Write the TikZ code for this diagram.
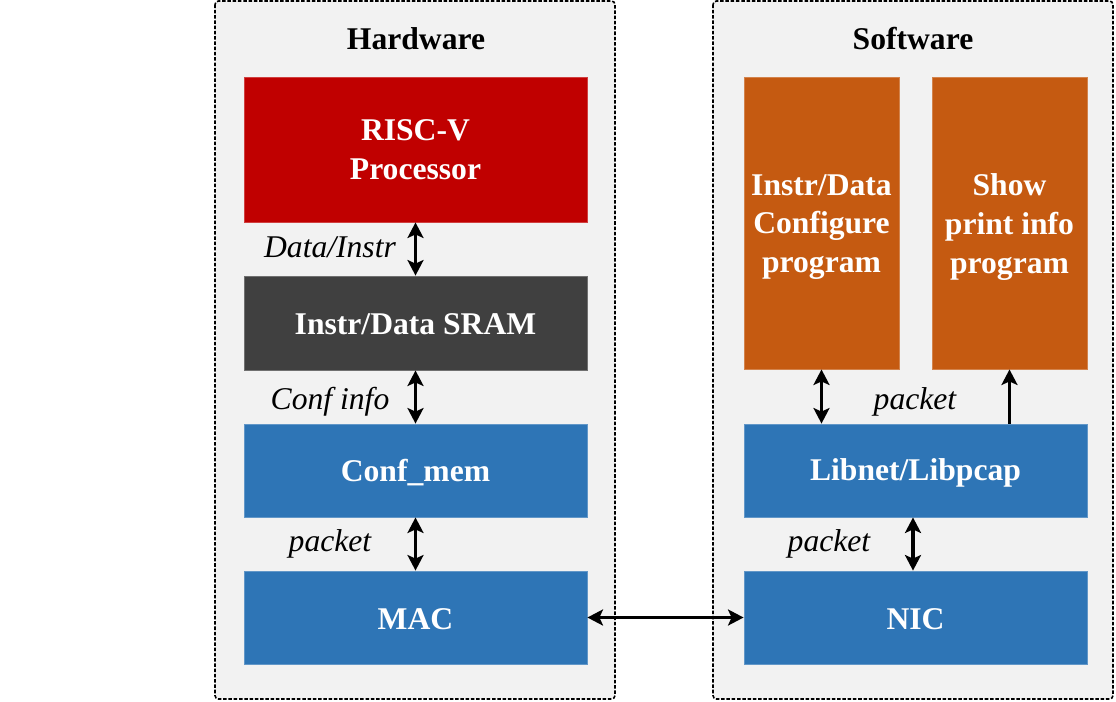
\documentclass[tikz,border=0pt]{standalone}
\usepackage{fontspec}
\setmainfont{Liberation Serif}
\usetikzlibrary{arrows.meta}
\definecolor{cred}{HTML}{C00000}
\definecolor{cgray}{HTML}{404040}
\definecolor{cblue}{HTML}{2E75B6}
\definecolor{corange}{HTML}{C55A11}
\definecolor{cpanel}{HTML}{F2F2F2}
\tikzset{
  panel/.style={draw=black, fill=cpanel, line width=0.9pt, dash pattern=on 2pt off 1pt, rounded corners=2pt},
  blk/.style={draw=#1!75!white, fill=#1, line width=0.5pt, inner sep=0pt},
  blktxt/.style={text=white, align=center, font=\fontsize{18}{22}\selectfont\bfseries, inner sep=0pt},
  ttl/.style={font=\fontsize{18}{22}\selectfont\bfseries},
  lbl/.style={font=\fontsize{18}{22}\selectfont\itshape},
  tip/.style={Stealth[length=3.1mm,width=3.2mm,inset=0.7mm]},
  conn/.style={line width=2.1pt, {Stealth[length=3.1mm,width=3.2mm,inset=0.7mm]}-{Stealth[length=3.1mm,width=3.2mm,inset=0.7mm]}},
  conn1/.style={line width=2.1pt, -{Stealth[length=3.1mm,width=3.2mm,inset=0.7mm]}}
}
% name, x1, y1, x2, y2, colour, text, text offset (px downward)
\newcommand{\bx}[8]{%
  \node[blk=#6, minimum width={(#4-#2)*0.02cm}, minimum height={(#5-#3)*0.02cm}] (#1) at ({(#2+#4)/2},{(#3+#5)/2}) {};
  \node[blktxt] (#1-t) at ([yshift={-(#8)*0.02cm}]#1.center) {#7};}
\begin{document}
\begin{tikzpicture}[x=0.02cm,y=-0.02cm]
\useasboundingbox (0,0) rectangle (1116,701);
\path[panel] (215,1) rectangle (615,699);
\path[panel] (713,1) rectangle (1113,699);
\node[ttl] (hw) at (416,39) {Hardware};
\node[ttl] (sw) at (913,39) {Software};
\bx{risc}{244}{77}{587}{222}{cred}{RISC-V\\Processor}{0}
\bx{sram}{244}{276}{587}{370}{cgray}{Instr/Data SRAM}{1}
\bx{conf}{244}{424}{587}{517}{cblue}{Conf\_mem}{2}
\bx{mac}{244}{571}{587}{664}{cblue}{MAC}{2}
\bx{cfg}{744}{77}{899}{369}{corange}{Instr/Data\\Configure\\program}{4}
\bx{show}{932}{77}{1087}{369}{corange}{Show\\print info\\program}{4}
\bx{lib}{744}{424}{1087}{517}{cblue}{Libnet/Libpcap}{2}
\bx{nic}{744}{571}{1087}{664}{cblue}{NIC}{2}
\draw[conn] (risc.south) -- (sram.north);
\draw[conn] (sram.south) -- (conf.north);
\draw[conn] (conf.south) -- (mac.north);
\draw[conn] (mac.east) -- (nic.west);
\draw[conn] (cfg.south) -- (cfg.south |- lib.north);
\draw[conn1] (show.south |- lib.north) -- (show.south);
\draw[conn] ([xshift=-0.05cm]lib.south) -- ([xshift=-0.05cm]nic.north);
\node[lbl] (l1) at (330,247) {Data/Instr};
\node[lbl] (l2) at (330,402) {Conf info};
\node[lbl] (l3) at (330,544) {packet};
\node[lbl] (l4) at (915,402) {packet};
\node[lbl] (l5) at (829,544) {packet};
\end{tikzpicture}
\end{document}
